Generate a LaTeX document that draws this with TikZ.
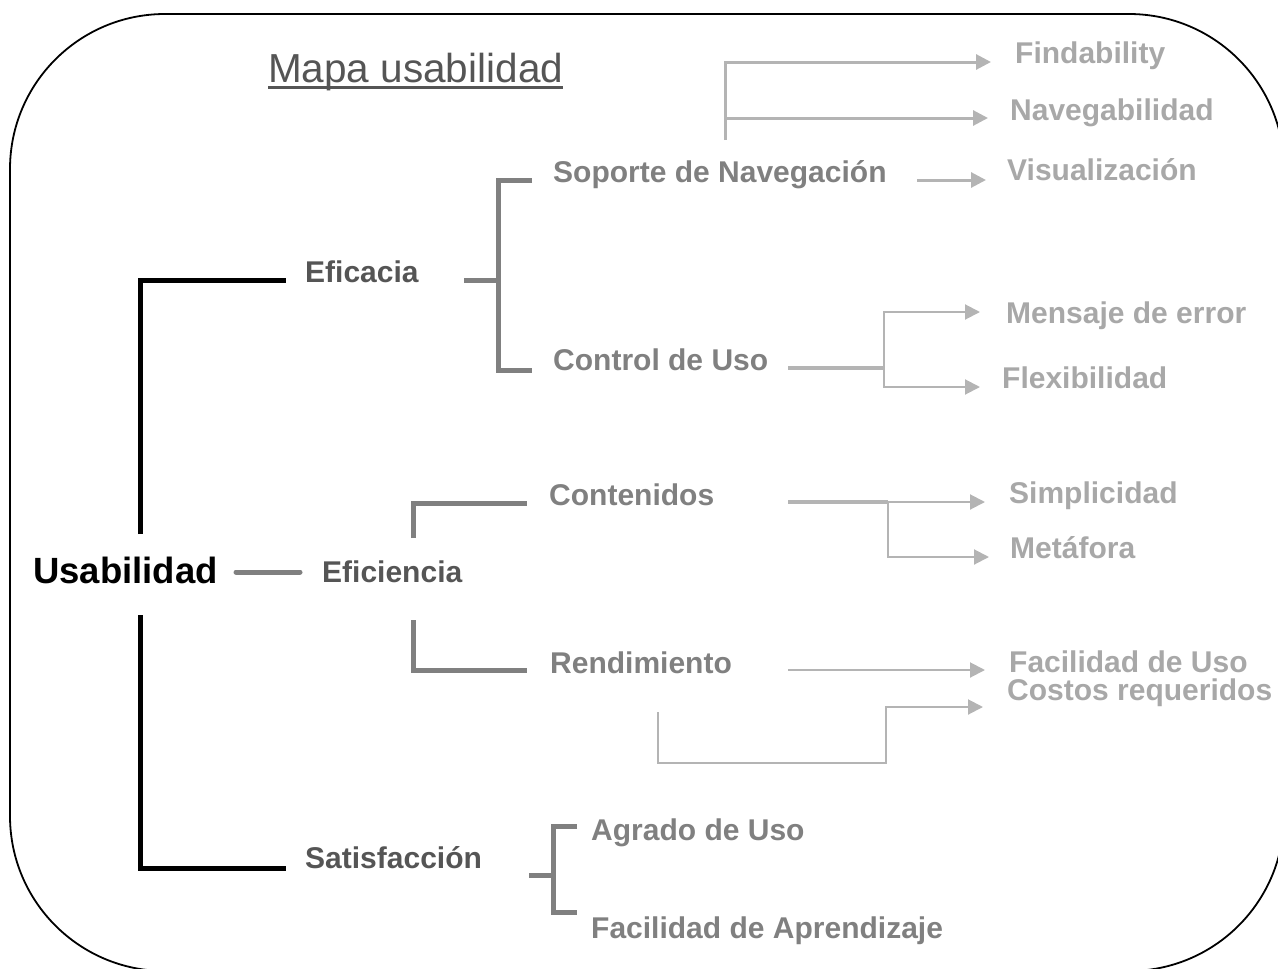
\documentclass[tikz,border=0pt]{standalone}
\usepackage{fontspec}
\setmainfont{Liberation Sans}
\usetikzlibrary{arrows.meta}
\definecolor{cA}{RGB}{85,85,85}
\definecolor{cB}{RGB}{128,128,128}
\definecolor{cC}{RGB}{168,168,168}
\definecolor{cL}{RGB}{180,180,180}
\begin{document}
\begin{tikzpicture}[x=1pt,y=-1pt,
 txt/.style={anchor=base west,inner sep=0pt,font=\fontsize{30}{31}\selectfont\bfseries},
 lvA/.style={txt,text=cA},
 lvB/.style={txt,text=cB},
 lvC/.style={txt,text=cC},
 blk/.style={line width=5pt,black},
 gr/.style={line width=5pt,cB},
 lt/.style={line width=2pt,cL},
 ltk/.style={line width=3.5pt,cL},
 arr/.style={-{Triangle[length=15pt,width=15pt]}}
]
\clip (0,0) rectangle (1278,969);
\draw[line width=1.8pt,rounded corners=155pt] (10,14) rectangle (1284,971);

% title
\node[anchor=base west,inner sep=0pt,font=\fontsize{40.5}{41}\selectfont,text=cA] (title) at (268,82) {Mapa usabilidad};
\draw[cA,line width=3pt] ([yshift=-5pt]title.base west) -- ([yshift=-5pt]title.base east);

% texts
\node[anchor=base west,inner sep=0pt,font=\fontsize{36.5}{37}\selectfont\bfseries,text=black] (usa) at (33,583) {Usabilidad};
\node[lvA] (efa) at (305,282) {Eficacia};
\node[lvA] (efi) at (322,582) {Eficiencia};
\node[lvA] (sat) at (305,868) {Satisfacción};
\node[lvB] (sop) at (553,182) {Soporte de Navegación};
\node[lvB] (ctl) at (553,370) {Control de Uso};
\node[lvB] (con) at (549,505) {Contenidos};
\node[lvB] (ren) at (550,673) {Rendimiento};
\node[lvB] (agr) at (591,840) {Agrado de Uso};
\node[lvB] (fap) at (591,938) {Facilidad de Aprendizaje};
\node[lvC] (fin) at (1015,63) {Findability};
\node[lvC] (nav) at (1010,120) {Navegabilidad};
\node[lvC] (vis) at (1007,180) {Visualización};
\node[lvC] (men) at (1006,323) {Mensaje de error};
\node[lvC] (fle) at (1002,388) {Flexibilidad};
\node[lvC] (sim) at (1009,503) {Simplicidad};
\node[lvC] (met) at (1010,558) {Metáfora};
\node[lvC] (fac) at (1009,672) {Facilidad de Uso};
\node[lvC] (cos) at (1007,700) {Costos requeridos};

% junction coordinates
\coordinate (uT) at (140,534); \coordinate (uB) at (140,615);
\coordinate (eA) at (286,280); \coordinate (eS) at (286,868);
\coordinate (ueL) at (236,572); \coordinate (ueR) at (300,572);

\coordinate (aS) at (464,280); \coordinate (aJ) at (498,280);
\coordinate (aT) at (532,180); \coordinate (aB) at (532,370); \coordinate (aBv) at (498,370);

\coordinate (iT0) at (413,538); \coordinate (iT) at (527,503);
\coordinate (iB0) at (413,620); \coordinate (iB) at (527,670);

\coordinate (sS) at (529,875); \coordinate (sJ) at (553,875);
\coordinate (sT) at (577,826); \coordinate (sB) at (577,912); \coordinate (sBv) at (553,912);

\coordinate (n0) at (725,140); \coordinate (n1) at (725,62); \coordinate (n2) at (725,118);
\coordinate (fin0) at (991,62); \coordinate (nav0) at (988,118);
\coordinate (v0) at (917,180); \coordinate (vis0) at (986,180);

\coordinate (c0) at (788,368); \coordinate (cJ) at (884,368);
\coordinate (men0) at (980,312); \coordinate (fle0) at (980,387);

\coordinate (k0) at (788,502); \coordinate (kJ) at (888,502);
\coordinate (sim0) at (985,502); \coordinate (met0) at (989,557);

\coordinate (r0) at (788,670); \coordinate (fac0) at (985,670);
\coordinate (q0) at (658,712); \coordinate (qJ) at (886,763); \coordinate (cos0) at (983,707);

% black bracket
\draw[blk] (uT) |- (eA);
\draw[blk] (uB) |- (eS);
\draw[gr,line cap=round] (ueL) -- (ueR);

% gray brackets
\draw[gr] (aS) -- (aJ);
\draw[gr] (aT) -| (aBv) -- (aB);
\draw[gr] (iT0) |- (iT);
\draw[gr] (iB0) |- (iB);
\draw[gr] (sS) -- (sJ);
\draw[gr] (sT) -| (sBv) -- (sB);

% light connectors
\draw[lt,line width=3pt,arr] (n0) -- (n1) -- (fin0);
\draw[lt,line width=3pt,arr] (n2) -- (nav0);
\draw[lt,line width=3pt,arr] (v0) -- (vis0);

\draw[ltk] (c0) -- (cJ);
\draw[lt,arr] (cJ) |- (men0);
\draw[lt,arr] (cJ) |- (fle0);

\draw[ltk] (k0) -- (kJ);
\draw[lt,arr] (kJ) -- (sim0);
\draw[lt,arr] (kJ) |- (met0);

\draw[lt,arr] (r0) -- (fac0);
\draw[lt,arr] (q0) |- (qJ) |- (cos0);
\end{tikzpicture}
\end{document}
